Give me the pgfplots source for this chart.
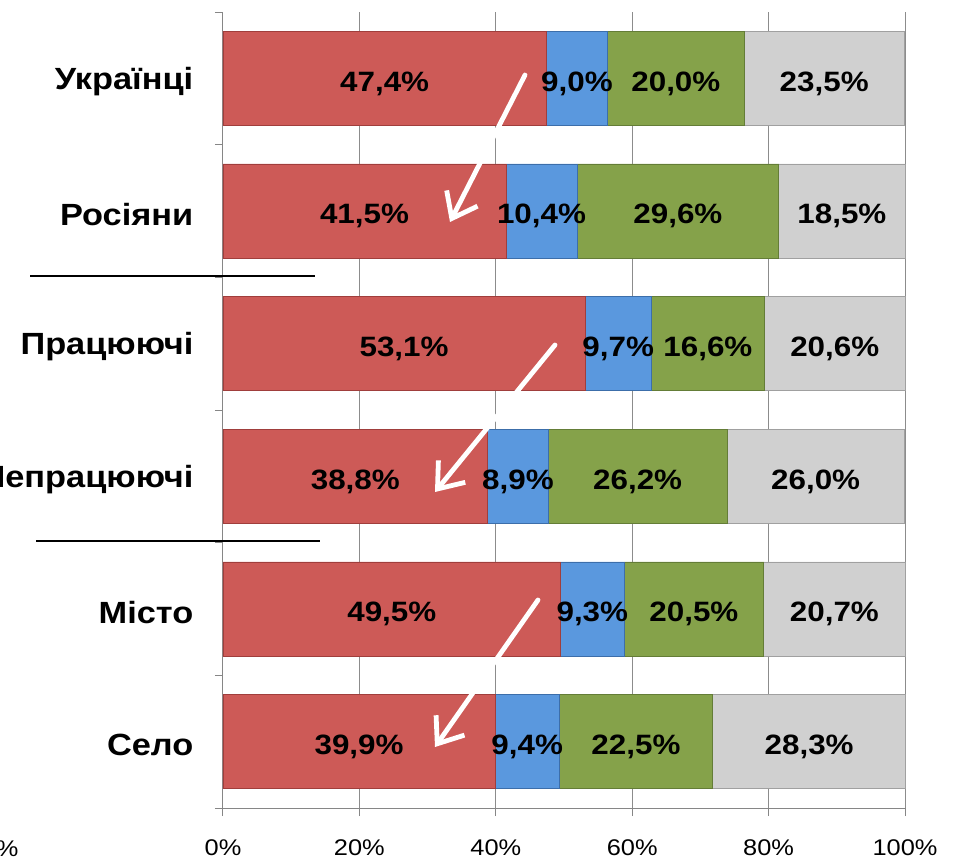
\documentclass[border=0pt]{standalone}
\usepackage{fontspec}
\setmainfont{Liberation Sans}[FakeStretch=1.12]
\usepackage{pgfplots}
\pgfplotsset{compat=1.18}
\usepackage{pgfplotstable}
\usetikzlibrary{arrows.meta}

\definecolor{cred}{RGB}{205,90,87}
\definecolor{credD}{RGB}{160,62,60}
\definecolor{cblue}{RGB}{90,152,222}
\definecolor{cblueD}{RGB}{60,110,170}
\definecolor{cgreen}{RGB}{133,162,74}
\definecolor{cgreenD}{RGB}{100,125,55}
\definecolor{cgrey}{RGB}{208,208,208}
\definecolor{cgreyD}{RGB}{160,160,160}
\definecolor{axisgrey}{RGB}{134,134,134}
\definecolor{gridgrey}{RGB}{140,140,140}

\pgfplotstableread{
y val
0 47.4
1 41.5
2 53.1
3 38.8
4 49.5
5 39.9
}\tblA
\pgfplotstableread{
y val
0 9.0
1 10.4
2 9.7
3 8.9
4 9.3
5 9.4
}\tblB
\pgfplotstableread{
y val
0 20.0
1 29.6
2 16.6
3 26.2
4 20.5
5 22.5
}\tblC
\pgfplotstableread{
y val
0 23.5
1 18.5
2 20.6
3 26.0
4 20.7
5 28.3
}\tblD

\begin{document}
\begin{tikzpicture}
\begin{axis}[
  at={(167.25pt,42pt)}, anchor=south west,
  scale only axis, width=511.5pt, height=597pt,
  xbar stacked, bar width=0.71,
  xmin=0, xmax=100, ymin=-0.5, ymax=5.5, y dir=reverse,
  clip=false,
  axis x line*=bottom, axis y line*=left,
  axis line style={draw=axisgrey, line width=0.75pt},
  tick align=outside, major tick length=6pt,
  tick style={draw=axisgrey, line width=0.75pt},
  xtick={0,20,40,60,80,100},
  xticklabels={0\%,20\%,40\%,60\%,80\%,100\%},
  xticklabel style={font=\fontsize{17}{20}\selectfont, yshift=-14pt},
  ytick={-0.5,0.5,1.5,2.5,3.5,4.5,5.5},
  yticklabels={},
  extra y ticks={0,1,2,3,4,5},
  extra y tick labels={Українці,Росіяни,Працюючі,Непрацюючі,Місто,Село},
  extra y tick style={tick style={draw=none},
    yticklabel style={font=\bfseries\fontsize{23}{27}\selectfont, anchor=east, xshift=-12.75pt, yshift=-2.5pt}},
  xmajorgrids, grid style={draw=gridgrey, line width=0.75pt},
  /pgf/number format/assume math mode=true,
  point meta=\thisrow{val},
  nodes near coords={\pgfmathprintnumber[fixed,fixed zerofill,precision=1,use comma]{\pgfplotspointmeta}\%},
  every node near coord/.append style={anchor=center, yshift=-4pt,
    font=\bfseries\fontsize{21}{24}\selectfont, text=black},
]
\addplot[fill=cred, draw=credD, line width=0.6pt] table[x=val,y=y]{\tblA};
\addplot[fill=cblue, draw=cblueD, line width=0.6pt] table[x=val,y=y]{\tblB};
\addplot[fill=cgreen, draw=cgreenD, line width=0.6pt] table[x=val,y=y]{\tblC};
\addplot[fill=cgrey, draw=cgreyD, line width=0.6pt] table[x=val,y=y]{\tblD};
\end{axis}
\begin{scope}[x=0.75pt, y=-0.75pt, shift={(0pt,648pt)}]
  \draw[white, line width=3.6pt, line cap=round, -{Straight Barb[length=17pt,width=26pt]}] (525,75) -- (450,222);
  \draw[white, line width=3.6pt, line cap=round, -{Straight Barb[length=17pt,width=26pt]}] (555,345) -- (435,492);
  \draw[white, line width=3.6pt, line cap=round, -{Straight Barb[length=17pt,width=26pt]}] (538,600) -- (435,747);
  \draw[black, line width=1.5pt] (30,276) -- (315,276);
  \draw[black, line width=1.5pt] (36,541) -- (320,541);
  \node[font=\fontsize{17}{20}\selectfont, anchor=center] at (0,849) {0\%};
\end{scope}
\pgfresetboundingbox
\path[use as bounding box] (0,0) rectangle (717.75pt,648pt);
\end{tikzpicture}
\end{document}
